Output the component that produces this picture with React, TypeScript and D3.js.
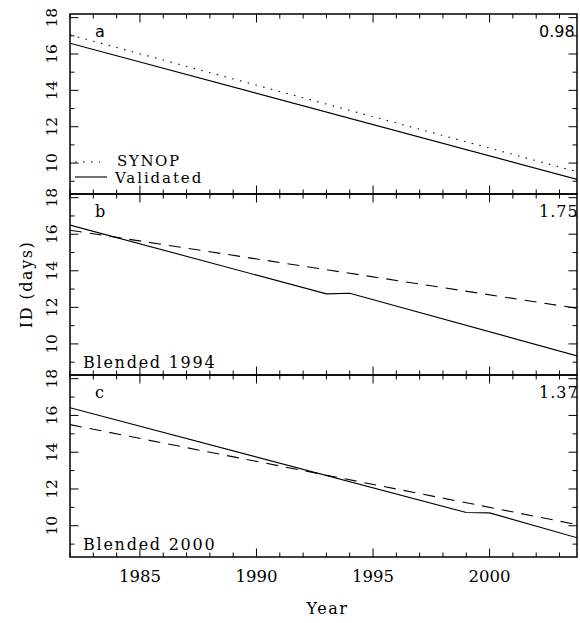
import React from "react";
import * as d3 from "d3";

// panel a: SYNOP vs validated
const synopYears = [1982, 2004];
const synopVals = [17.05, 9.44];
const validAYears = [1982, 2004];
const validAVals = [16.59, 9.02];

// panel b: blended 1994
const validBYears = [1982, 1993, 1994, 2004];
const validBVals = [16.5, 12.74, 12.77, 9.26];
const blend94Years = [1982, 2004];
const blend94Vals = [16.22, 11.9];

// panel c: blended 2000
const validCYears = [1982, 1999, 2000, 2004];
const validCVals = [16.42, 10.72, 10.7, 9.26];
const blend00Years = [1982, 2004];
const blend00Vals = [15.5, 10.0];

const panelLetters = ["a", "b", "c"];
const panelScores = ["0.98", "1.75", "1.37"];
const yTicks = [10, 12, 14, 16, 18];
const xTicks = [1985, 1990, 1995, 2000];

const W = 580;
const H = 623;
const left = 70;
const right = 577;
const tops = [14, 194, 375];
const bottoms = [194, 375, 557];
const serif = "DejaVu Serif";

const x = d3.scaleLinear().domain([1982, 2003.75]).range([left, right]);

const zip = (xs: number[], ys: number[]) => xs.map((v, i) => [v, ys[i]] as [number, number]);

type Series = { pts: [number, number][]; dash: string | null };

const panels: { series: Series[] }[] = [
  {
    series: [
      { pts: zip(synopYears, synopVals), dash: "1.5,6.5" },
      { pts: zip(validAYears, validAVals), dash: null },
    ],
  },
  {
    series: [
      { pts: zip(blend94Years, blend94Vals), dash: "12,8" },
      { pts: zip(validBYears, validBVals), dash: null },
    ],
  },
  {
    series: [
      { pts: zip(blend00Years, blend00Vals), dash: "12,8" },
      { pts: zip(validCYears, validCVals), dash: null },
    ],
  },
];

const Panel = ({ i }: { i: number }) => {
  const top = tops[i];
  const bottom = bottoms[i];
  const y = d3.scaleLinear().domain([8.3, 18.2]).range([bottom, top]);
  const line = d3
    .line<[number, number]>()
    .x((d) => x(d[0]))
    .y((d) => y(d[1]));
  const minorX = d3.range(1982, 2004);
  const minorY = d3.range(9, 19);
  const clipId = `clip${i}`;

  return (
    <g>
      <defs>
        <clipPath id={clipId}>
          <rect x={left} y={top} width={right - left} height={bottom - top} />
        </clipPath>
      </defs>
      <g clipPath={`url(#${clipId})`}>
        {panels[i].series.map((s, k) => (
          <path
            key={k}
            d={line(s.pts) || ""}
            fill="none"
            stroke="#000"
            strokeWidth={1.1}
            strokeDasharray={s.dash || undefined}
          />
        ))}
      </g>
      {/* x ticks top and bottom */}
      {minorX.map((yr) => {
        const len = yr % 5 === 0 ? 8.5 : 4.5;
        return (
          <g key={yr} stroke="#000" strokeWidth={1}>
            <line x1={x(yr)} x2={x(yr)} y1={bottom} y2={bottom - len} />
            <line x1={x(yr)} x2={x(yr)} y1={top} y2={top + len} />
          </g>
        );
      })}
      {/* y ticks left and right */}
      {minorY.map((v) => {
        const len = v % 2 === 0 ? 8.5 : 4.5;
        return (
          <g key={v} stroke="#000" strokeWidth={1}>
            <line x1={left} x2={left + len} y1={y(v)} y2={y(v)} />
            <line x1={right} x2={right - len} y1={y(v)} y2={y(v)} />
          </g>
        );
      })}
      {yTicks.map((v) => (
        <text
          key={v}
          transform={`translate(57,${y(v)}) rotate(-90)`}
          textAnchor="middle"
          fontFamily={serif}
          fontSize={15.5}
        >
          {v}
        </text>
      ))}
      <rect
        x={left}
        y={top}
        width={right - left}
        height={bottom - top}
        fill="none"
        stroke="#000"
        strokeWidth={1.5}
      />
      <text
        x={95}
        y={top + 23}
        fontFamily={i === 0 ? "DejaVu Sans" : serif}
        fontSize={16}
      >
        {panelLetters[i]}
      </text>
      <text
        x={539}
        y={top + 23}
        fontFamily={i === 0 ? "DejaVu Sans" : serif}
        fontSize={16}
        letterSpacing={i === 0 ? 0 : 1}
      >
        {panelScores[i]}
      </text>
    </g>
  );
};

export default function App() {
  return (
    <svg
      width={W}
      height={H}
      style={{ position: "absolute", left: 0, top: 0, background: "#fff" }}
    >
      {[0, 1, 2].map((i) => (
        <Panel key={i} i={i} />
      ))}

      {/* legend in panel a */}
      <line x1={75} x2={100} y1={162} y2={162} stroke="#000" strokeWidth={1.1} strokeDasharray="1.5,6.5" />
      <text x={117} y={166} fontFamily={serif} fontSize={15} letterSpacing={1.6}>
        SYNOP
      </text>
      <line x1={75} x2={107} y1={177} y2={177} stroke="#000" strokeWidth={1.1} />
      <text x={115} y={183} fontFamily={serif} fontSize={15} letterSpacing={1.9}>
        Validated
      </text>

      <text x={83} y={368} fontFamily={serif} fontSize={16} letterSpacing={1.75}>
        Blended 1994
      </text>
      <text x={83} y={550} fontFamily={serif} fontSize={16} letterSpacing={1.75}>
        Blended 2000
      </text>

      {xTicks.map((t) => (
        <text key={t} x={x(t)} y={582} textAnchor="middle" fontFamily={serif} fontSize={16.5}>
          {t}
        </text>
      ))}
      <text
        x={(left + right) / 2 + 4}
        y={614}
        textAnchor="middle"
        fontFamily={serif}
        fontSize={16}
        letterSpacing={1.5}
      >
        Year
      </text>
      <text
        transform={`translate(32,${(tops[1] + bottoms[1]) / 2}) rotate(-90)`}
        textAnchor="middle"
        fontFamily={serif}
        fontSize={16}
        letterSpacing={1.5}
      >
        ID (days)
      </text>
    </svg>
  );
}
